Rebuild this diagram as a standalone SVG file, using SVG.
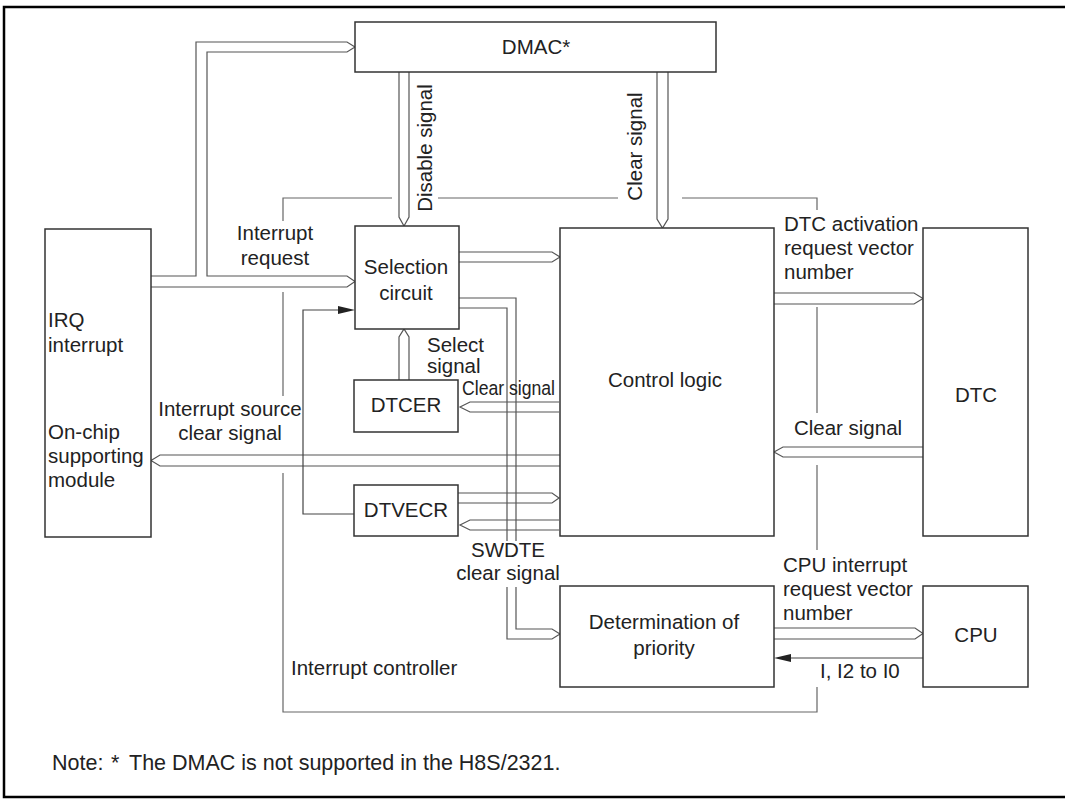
<svg xmlns="http://www.w3.org/2000/svg" width="1065" height="800" viewBox="0 0 1065 800">
<style>
text{font-family:"Liberation Sans",Arial,sans-serif;font-size:20.5px;fill:#222}
.m{text-anchor:middle}
.box{fill:#fff;stroke:#333;stroke-width:1.5}
.bus{fill:none;stroke:#555;stroke-width:1.2;stroke-linejoin:miter}
.ln{fill:none;stroke:#444;stroke-width:1.2}
.bd{fill:none;stroke:#666;stroke-width:1.2}
.ah{fill:#222;stroke:none}
</style>
<rect width="1065" height="800" fill="#fff"/>
<path d="M1070,7 H4 V797 H1070" fill="none" stroke="#000" stroke-width="2.5"/>

<g id="boundary">
<path class="bd" d="M392,198 H283 V221 M283,292 V396 M283,473 V712 H817 V687 M817,550 V465 M817,413 V307 M817,210 V198 H682 M618,198 H438"/>
<text x="291" y="675">Interrupt controller</text>
</g>

<g id="connectors">
<path class="bus" d="M151,276 H196 V42 H347 L355,47 L347,52 H207 V276 H347 L355,281.5 L347,287 H151"/>
<path class="bus" d="M399,72 V217 L404,226 L409,217 V72"/>
<path class="bus" d="M657,72 V219 L662.5,228 L668,219 V72"/>
<path class="bus" d="M399,380 V337 L404,329 L409,337 V380"/>
<path class="bus" d="M459,252 H552 L560,257 L552,262 H459"/>
<path class="bus" d="M459,298 H516 V541 M516,587 V629 H552 L560,634 L552,639 H507 V587 M507,541 V308 H459"/>
<path class="bus" d="M559,402 H470 L460,407 L470,412 H559"/>
<path class="bus" d="M560,455 H160 L151,460.5 L160,466 H560"/>
<path class="bus" d="M458,493 H552 L559,498 L552,503 H458"/>
<path class="bus" d="M559,520 H470 L460,525 L470,530 H559"/>
<path class="ln" d="M354,514 H303 V310 H338"/>
<polygon class="ah" points="338,306 355,310 338,314"/>
<path class="bus" d="M774,293 H914 L923,298.5 L914,304 H774"/>
<path class="bus" d="M923,447 H783 L774,452 L783,457 H923"/>
<path class="bus" d="M774,628 H915 L923,633.5 L915,639 H774"/>
<path class="ln" d="M923,658 H791"/>
<polygon class="ah" points="791,654 774,658 791,662"/>
</g>

<g id="dmac">
<rect class="box" x="355" y="22" width="361" height="50"/>
<text class="m" x="536" y="54">DMAC*</text>
</g>
<g id="irq">
<rect class="box" x="45" y="229" width="106" height="308"/>
<text x="48" y="327">IRQ</text>
<text x="48" y="352">interrupt</text>
<text x="48" y="439">On-chip</text>
<text x="48" y="463">supporting</text>
<text x="48" y="487">module</text>
</g>
<g id="selection">
<rect class="box" x="355" y="226" width="104" height="103"/>
<text class="m" x="406" y="274">Selection</text>
<text class="m" x="406" y="300">circuit</text>
</g>
<g id="dtcer">
<rect class="box" x="354" y="380" width="104" height="52"/>
<text class="m" x="406" y="412">DTCER</text>
</g>
<g id="dtvecr">
<rect class="box" x="354" y="485" width="104" height="51"/>
<text class="m" x="406" y="517">DTVECR</text>
</g>
<g id="control">
<rect class="box" x="560" y="228" width="214" height="308"/>
<text class="m" x="665" y="387">Control logic</text>
</g>
<g id="determination">
<rect class="box" x="560" y="586" width="214" height="101"/>
<text class="m" x="664" y="629">Determination of</text>
<text class="m" x="664" y="655">priority</text>
</g>
<g id="dtc">
<rect class="box" x="923" y="228" width="105" height="308"/>
<text class="m" x="976" y="402">DTC</text>
</g>
<g id="cpu">
<rect class="box" x="923" y="586" width="105" height="101"/>
<text class="m" x="976" y="642">CPU</text>
</g>

<g id="labels">
<text class="m" transform="translate(432,148) rotate(-90)">Disable signal</text>
<text class="m" transform="translate(642,146.5) rotate(-90)">Clear signal</text>
<text class="m" x="275" y="240">Interrupt</text>
<text class="m" x="275" y="265">request</text>
<text x="427" y="352">Select</text>
<text x="427" y="373">signal</text>
<text x="462" y="395" textLength="93" lengthAdjust="spacingAndGlyphs">Clear signal</text>
<text class="m" x="230" y="416">Interrupt source</text>
<text class="m" x="230" y="440">clear signal</text>
<text class="m" x="508" y="557">SWDTE</text>
<text class="m" x="508" y="580">clear signal</text>
<text x="784" y="231">DTC activation</text>
<text x="784" y="255">request vector</text>
<text x="784" y="279">number</text>
<text class="m" x="848" y="435">Clear signal</text>
<text x="783" y="572">CPU interrupt</text>
<text x="783" y="596">request vector</text>
<text x="783" y="620">number</text>
<text x="820" y="678">I, I2 to I0</text>
<text y="770" style="font-size:21.5px"><tspan x="52">Note:</tspan><tspan x="111">*</tspan><tspan x="129">The DMAC is not supported in the H8S/2321.</tspan></text>
</g>
</svg>
